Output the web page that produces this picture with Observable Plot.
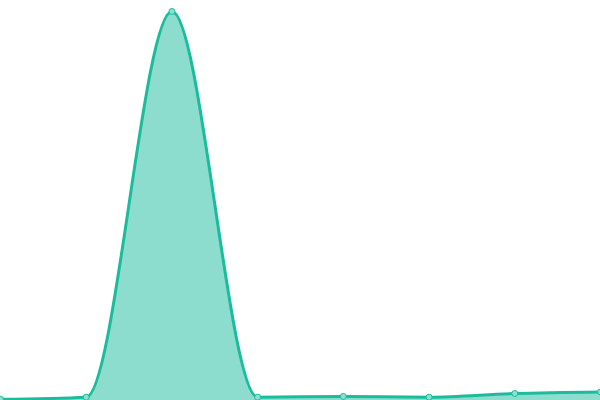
<!DOCTYPE html>
<html>
<head>
<meta charset="utf-8">
<script src="https://cdn.jsdelivr.net/npm/d3@7"></script>
<script src="https://cdn.jsdelivr.net/npm/@observablehq/plot@0.6"></script>
<style>
  html, body { margin: 0; padding: 0; background: #fff; }
</style>
</head>
<body>
<div id="chart"></div>
<script>
const categories = [0, 1, 2, 3, 4, 5, 6, 7];
const values = [0.3, 0.85, 100, 0.85, 1.05, 0.85, 1.8, 2.2];

const data = categories.map((c, i) => ({x: c, y: values[i]}));

const chart = Plot.plot({
  width: 600,
  height: 400,
  marginTop: 11,
  marginBottom: 0,
  marginLeft: 0,
  marginRight: 0,
  x: {domain: [0, 7], axis: null},
  y: {domain: [0, 100], axis: null},
  marks: [
    Plot.areaY(data, {x: "x", y: "y", curve: "monotone-x", fill: "#1abc9c", fillOpacity: 0.5}),
    Plot.lineY(data, {x: "x", y: "y", curve: "monotone-x", stroke: "#1abc9c", strokeWidth: 3}),
    Plot.dot(data, {x: "x", y: "y", r: 3, fill: "#8ce0cf", stroke: "#1abc9c", strokeWidth: 1})
  ]
});
document.getElementById("chart").appendChild(chart);
</script>
</body>
</html>
